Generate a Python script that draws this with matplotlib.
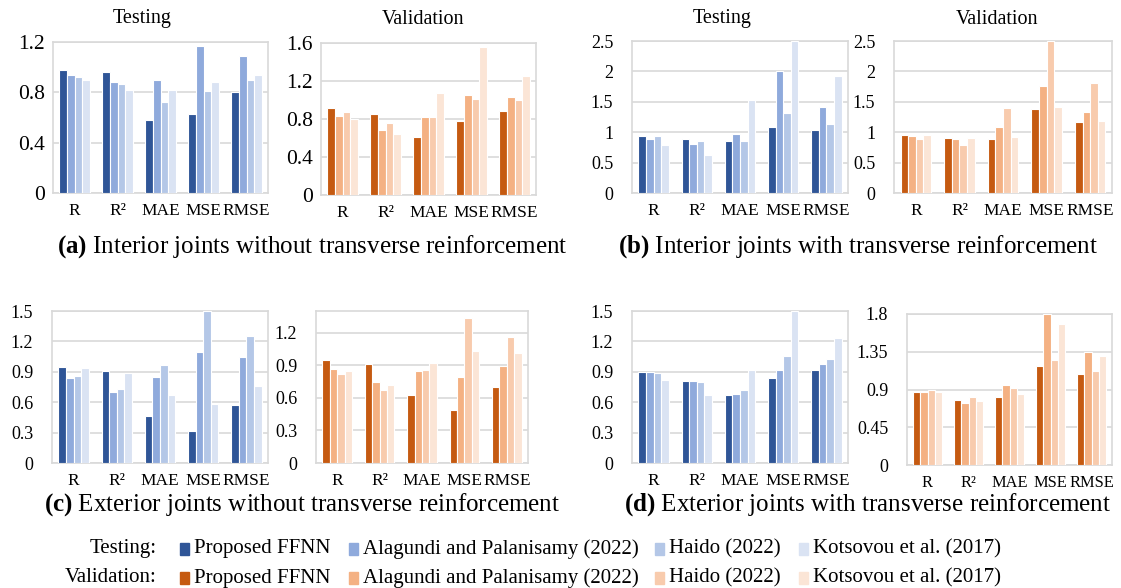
import numpy as np
from matplotlib import pyplot as plt
from matplotlib.patches import Rectangle
from matplotlib.ticker import FuncFormatter

plt.rcParams['font.family'] = ['Liberation Serif', 'DejaVu Serif']
plt.rcParams['mathtext.fontset'] = 'custom'
plt.rcParams['mathtext.rm'] = 'Liberation Serif'
plt.rcParams['mathtext.bf'] = 'Liberation Serif:bold'

# === 0. DATA ===

metrics = ['R', 'R²', 'MAE', 'MSE', 'RMSE']
models = ['Proposed FFNN', 'Alagundi and Palanisamy (2022)', 'Haido (2022)', 'Kotsovou et al. (2017)']

# rows = models, columns = metrics
a_test = [[0.98, 0.96, 0.58, 0.63, 0.80],
          [0.935, 0.88, 0.90, 1.17, 1.09],
          [0.92, 0.87, 0.72, 0.81, 0.90],
          [0.90, 0.815, 0.82, 0.88, 0.94]]
a_val = [[0.92, 0.85, 0.61, 0.78, 0.88],
         [0.83, 0.68, 0.82, 1.05, 1.03],
         [0.87, 0.76, 0.82, 1.01, 1.00],
         [0.80, 0.64, 1.07, 1.56, 1.25]]
b_test = [[0.93, 0.88, 0.85, 1.08, 1.03],
          [0.88, 0.80, 0.97, 2.00, 1.41],
          [0.93, 0.85, 0.85, 1.31, 1.14],
          [0.79, 0.62, 1.53, 2.50, 1.92]]
b_val = [[0.95, 0.90, 0.88, 1.38, 1.17],
         [0.94, 0.89, 1.08, 1.76, 1.33],
         [0.89, 0.79, 1.39, 2.50, 1.81],
         [0.95, 0.91, 0.92, 1.42, 1.19]]
c_test = [[0.95, 0.91, 0.46, 0.32, 0.57],
          [0.84, 0.70, 0.85, 1.10, 1.05],
          [0.86, 0.73, 0.97, 1.50, 1.25],
          [0.94, 0.89, 0.67, 0.58, 0.76]]
c_val = [[0.95, 0.91, 0.63, 0.49, 0.70],
         [0.87, 0.75, 0.85, 0.79, 0.89],
         [0.82, 0.67, 0.86, 1.34, 1.16],
         [0.85, 0.72, 0.92, 1.03, 1.01]]
d_test = [[0.90, 0.81, 0.67, 0.84, 0.92],
          [0.90, 0.81, 0.68, 0.92, 0.98],
          [0.89, 0.80, 0.72, 1.06, 1.03],
          [0.82, 0.67, 0.92, 1.50, 1.23]]
d_val = [[0.875, 0.775, 0.81, 1.18, 1.08],
         [0.865, 0.74, 0.95, 1.80, 1.35],
         [0.90, 0.81, 0.92, 1.25, 1.12],
         [0.875, 0.76, 0.85, 1.68, 1.30]]

blues = ['#2F5597', '#8FAADC', '#B4C7E7', '#DAE3F3']
oranges = ['#C55A11', '#F4B183', '#F8CBAD', '#FBE5D6']

captions = ['Interior joints without transverse reinforcement',
            'Interior joints with transverse reinforcement',
            'Exterior joints without transverse reinforcement',
            'Exterior joints with transverse reinforcement']

W, H = 1121, 588
GRID = '#D9D9D9'


def px_axes(fig, x0, x1, ytop, ybot):
    """Add axes given pixel box (from top-left of the image)."""
    return fig.add_axes([x0 / W, (H - ybot) / H, (x1 - x0) / W, (ybot - ytop) / H])


def draw_panel(ax, values, colors, ymax, ystep, ytick_max=None, ysize=13, ypad=13.5, xsize=12.5):
    x = np.arange(len(metrics))
    bw = 0.175
    for i, row in enumerate(values):
        ax.bar(x + (i - 1.5) * bw, row, bw, color=colors[i],
               edgecolor='white', linewidth=0.8, zorder=3)
    ax.set_xlim(-0.5, len(metrics) - 0.5)
    ax.set_ylim(0, ymax)
    top = ymax if ytick_max is None else ytick_max
    ax.set_yticks(np.arange(0, top + 1e-9, ystep))
    ax.yaxis.set_major_formatter(FuncFormatter(lambda v, p: '{:g}'.format(round(v, 2))))
    ax.set_xticks(x)
    ax.set_xticklabels(metrics)
    ax.tick_params(length=0)
    ax.tick_params(axis='y', labelsize=ysize, pad=ypad)
    ax.tick_params(axis='x', labelsize=xsize, pad=7)
    ax.grid(axis='y', color=GRID, linewidth=1.2, zorder=0)
    for s in ax.spines.values():
        s.set_color(GRID)
        s.set_linewidth(1.2)


fig = plt.figure(figsize=(W / 100, H / 100), dpi=100)

# === 1. TOP ROW ===
ax = px_axes(fig, 53, 268, 42, 193)
draw_panel(ax, a_test, blues, 1.2, 0.4, ysize=15.5, ypad=6)

ax = px_axes(fig, 321, 536, 43, 195)
draw_panel(ax, a_val, oranges, 1.6, 0.4, ysize=15.5, ypad=6)

ax = px_axes(fig, 632, 848, 41, 193)
draw_panel(ax, b_test, blues, 2.5, 0.5)

ax = px_axes(fig, 894, 1112, 41, 193)
draw_panel(ax, b_val, oranges, 2.5, 0.5)

titles = [('Testing', 142), ('Validation', 423), ('Testing', 722), ('Validation', 997)]
for name, tx in titles:
    fig.text(tx / W, 1 - 19 / H, name, ha='center', va='center', fontsize=14.5)

# === 2. BOTTOM ROW ===
ax = px_axes(fig, 52, 268, 311, 463)
draw_panel(ax, c_test, blues, 1.5, 0.3)

ax = px_axes(fig, 316, 528, 311, 463)
draw_panel(ax, c_val, oranges, 1.4, 0.3, ytick_max=1.2)

ax = px_axes(fig, 632, 848, 311, 463)
draw_panel(ax, d_test, blues, 1.5, 0.3)

ax = px_axes(fig, 907, 1112, 314, 465)
draw_panel(ax, d_val, oranges, 1.8, 0.45, xsize=11.8)

# === 3. CAPTIONS ===
cap_pos = [(312, 247), (858, 247), (302, 505), (868, 505)]
for letter, cap, (cx, cy) in zip('abcd', captions, cap_pos):
    fig.text(cx / W, 1 - cy / H, r'$\mathbf{(' + letter + r')}$ ' + cap,
             ha='center', va='center', fontsize=18)

# === 4. LEGEND ===
marker_x = [180, 349, 655, 799]
rows = [('Testing:', blues, 549), ('Validation:', oranges, 578)]
for label, colors, yc in rows:
    fig.text(157 / W, 1 - yc / H, label, ha='right', va='center', fontsize=15)
    for mx, col, name in zip(marker_x, colors, models):
        fig.add_artist(Rectangle((mx / W, 1 - (yc + 6) / H), 9 / W, 12 / H,
                                 transform=fig.transFigure, color=col))
        fig.text((mx + 14) / W, 1 - yc / H, name, ha='left', va='center', fontsize=15)

fig.savefig('out.png', dpi=100)
